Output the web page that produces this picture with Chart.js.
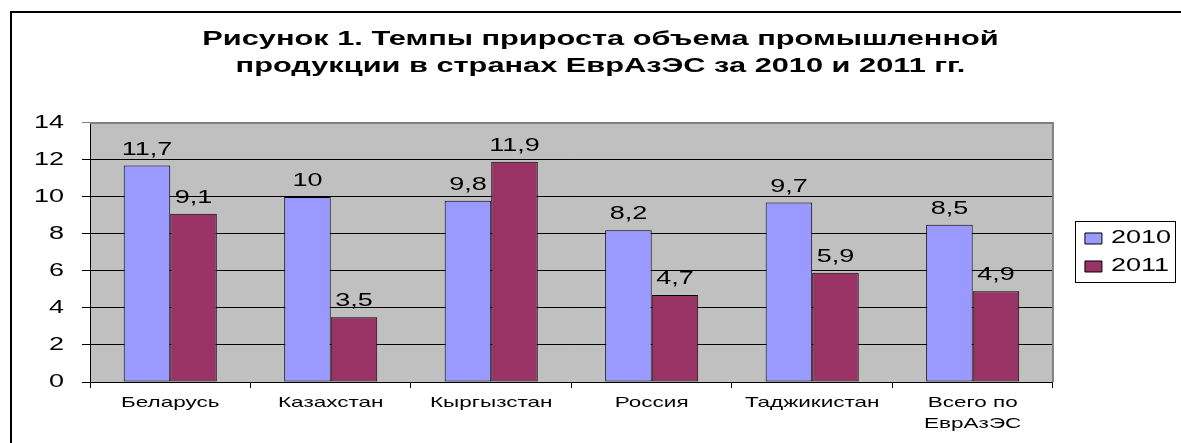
<!DOCTYPE html>
<html>
<head>
<meta charset="utf-8">
<script src="https://cdn.jsdelivr.net/npm/chart.js@4/dist/chart.umd.min.js"></script>
<style>
    html, body { margin: 0; padding: 0; background: #fff; }
    #wrap { width: 1181px; height: 443px; }
</style>
</head>
<body>
<div id="wrap"><canvas id="growthChart" width="1181" height="443"></canvas></div>
<script>
const CATEGORIES  = ['Беларусь', 'Казахстан', 'Кыргызстан', 'Россия', 'Таджикистан', ['Всего по', 'ЕврАзЭС']];
const VALUES_2010 = [11.7, 10, 9.8, 8.2, 9.7, 8.5];
const VALUES_2011 = [9.1, 3.5, 11.9, 4.7, 5.9, 4.9];
const SERIES      = ['2010', '2011'];
const Y_MIN  = 0;
const Y_MAX  = 14;
const Y_STEP = 2;
const TITLE = ['Рисунок 1. Темпы прироста объема промышленной', 'продукции в странах ЕврАзЭС за 2010 и 2011 гг.'];

const FONT = "'Liberation Sans', Arial, sans-serif";

// the Excel picture is stretched sideways, so all text is drawn wider too
const STRETCH = 1.5;

function stretchText(ctx, k)
{
    const fill = ctx.fillText.bind(ctx);
    const measure = ctx.measureText.bind(ctx);

    ctx.fillText = (text, x, y) => {
        ctx.save();
        ctx.translate(x, y);
        ctx.scale(k, 1);
        fill(text, 0, 0);
        ctx.restore();
    };

    ctx.measureText = text => {
        const m = measure(text);
        return {
            width: m.width * k,
            actualBoundingBoxLeft: m.actualBoundingBoxLeft * k,
            actualBoundingBoxRight: m.actualBoundingBoxRight * k,
            actualBoundingBoxAscent: m.actualBoundingBoxAscent,
            actualBoundingBoxDescent: m.actualBoundingBoxDescent
        };
    };
}

const frame = {
    id: 'frame',
    beforeDraw(chart)
    {
        const { ctx, chartArea: a } = chart;
        ctx.save();
        ctx.fillStyle = '#fff';
        ctx.fillRect(0, 0, chart.width, chart.height);

        ctx.strokeStyle = '#000';
        ctx.lineWidth = 2;
        ctx.beginPath();
        ctx.moveTo(11, chart.height + 5);
        ctx.lineTo(11, 12);
        ctx.lineTo(chart.width + 5, 12);
        ctx.stroke();

        ctx.fillStyle = '#C0C0C0';
        ctx.fillRect(a.left, a.top, a.right - a.left, a.bottom - a.top);
        ctx.restore();
    },
    beforeDatasetsDraw(chart)
    {
        const { ctx, chartArea: a } = chart;
        ctx.save();
        ctx.strokeStyle = '#808080';
        ctx.lineWidth = 2;
        ctx.beginPath();
        ctx.moveTo(a.left, a.top);
        ctx.lineTo(a.right, a.top);
        ctx.lineTo(a.right, a.bottom);
        ctx.stroke();
        ctx.restore();
    },
    afterDraw(chart)
    {
        const boxes = chart.legend.legendHitBoxes;
        if (!boxes || !boxes.length) return;

        const first = boxes[0];
        const last = boxes[boxes.length - 1];
        const { ctx } = chart;

        ctx.save();
        ctx.strokeStyle = '#000';
        ctx.lineWidth = 1;
        ctx.strokeRect(Math.round(first.left - 10) + 0.5, Math.round(first.top - 8) + 0.5,
                       Math.round(first.width + 14), Math.round(last.top + last.height - first.top + 15));
        ctx.restore();
    }
};

const valueLabels = {
    id: 'valueLabels',
    afterDatasetsDraw(chart)
    {
        const { ctx } = chart;
        ctx.save();
        ctx.font = `18px ${FONT}`;
        ctx.fillStyle = '#000';
        ctx.textAlign = 'center';
        ctx.textBaseline = 'alphabetic';

        chart.data.datasets.forEach((ds, i) => {
            chart.getDatasetMeta(i).data.forEach((bar, j) => {
                const text = String(ds.data[j]).replace('.', ',');
                ctx.fillText(text, bar.x, bar.y - 11);
            });
        });
        ctx.restore();
    }
};

const ctx = document.getElementById('growthChart').getContext('2d');
stretchText(ctx, STRETCH);

let growthChart = new Chart(ctx, {
    type: 'bar',
    data: {
        labels: CATEGORIES,
        datasets: [
            {
                label: SERIES[0],
                data: VALUES_2010,
                backgroundColor: '#9999FF',
                borderColor: '#000',
                borderWidth: 1,
                borderSkipped: false
            },
            {
                label: SERIES[1],
                data: VALUES_2011,
                backgroundColor: '#993366',
                borderColor: '#000',
                borderWidth: 1,
                borderSkipped: false
            }
        ]
    },
    options: {
        responsive: false,
        animation: false,
        devicePixelRatio: 1,
        layout: { padding: { left: 20, right: 0, top: 12, bottom: 0 } },
        datasets: {
            bar: { categoryPercentage: 0.58, barPercentage: 1 }
        },
        plugins: {
            title: {
                display: true,
                text: TITLE,
                color: '#000',
                font: { family: FONT, size: 20.5, weight: 'bold', lineHeight: 1.317 },
                padding: { top: 14, bottom: 43 }
            },
            legend: {
                position: 'right',
                fullSize: false,
                labels: {
                    color: '#000',
                    font: { family: FONT, size: 18, lineHeight: 1 },
                    boxWidth: 17,
                    boxHeight: 11,
                    padding: 10,
                    generateLabels: chart => chart.data.datasets.map((ds, i) => ({
                        text: ds.label,
                        fillStyle: ds.backgroundColor,
                        strokeStyle: '#000',
                        lineWidth: 1,
                        datasetIndex: i,
                        hidden: false
                    }))
                }
            },
            tooltip: { enabled: false }
        },
        scales: {
            x: {
                offset: true,
                afterFit: scale => { scale.height = 61; },
                grid: { drawOnChartArea: false, drawTicks: true, tickLength: 6, offset: true, color: '#000' },
                border: { display: true, color: '#000', width: 1 },
                ticks: {
                    color: '#000',
                    font: { family: FONT, size: 15, lineHeight: 1.35 },
                    padding: 5,
                    maxRotation: 0,
                    autoSkip: false
                }
            },
            y: {
                min: Y_MIN,
                max: Y_MAX,
                afterFit: scale => { scale.width = 70; },
                grid: {
                    color: c => (c.tick && c.tick.value === Y_MAX) ? '#808080' : '#000',
                    tickLength: 8
                },
                border: { display: true, color: '#000', width: 1 },
                ticks: {
                    stepSize: Y_STEP,
                    color: '#000',
                    font: { family: FONT, size: 18 },
                    padding: 18
                }
            },
            spacer: {
                position: 'right',
                display: true,
                afterFit: scale => { scale.width = 22; },
                grid: { display: false },
                border: { display: false },
                ticks: { display: false }
            }
        }
    },
    plugins: [frame, valueLabels]
});
</script>
</body>
</html>
